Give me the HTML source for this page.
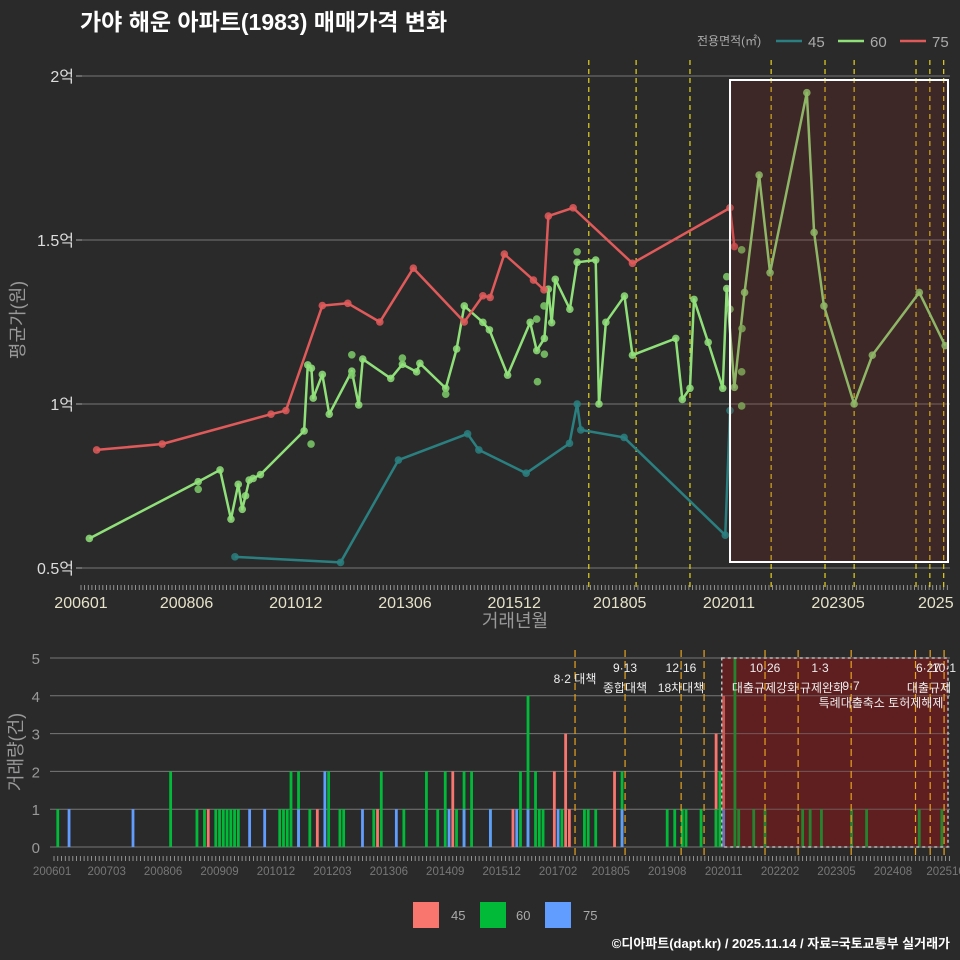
<!DOCTYPE html>
<html><head><meta charset="utf-8"><style>
html,body{margin:0;padding:0;background:#2a2a2b;}
svg{display:block;font-family:"Liberation Sans","Noto Sans CJK KR",sans-serif;}
</style></head><body>
<svg id="c" width="960" height="960" viewBox="0 0 960 960">
<rect width="960" height="960" fill="#2a2a2b"/>
<text x="80" y="30" fill="#fff" font-size="23" font-weight="bold">가야 해운 아파트(1983) 매매가격 변화</text>
<g>
<text x="697" y="45" fill="#aaa" font-size="12">전용면적(㎡)</text>
<line x1="776" y1="41" x2="802" y2="41" stroke="#2a8080" stroke-width="2.5"/>
<text x="808" y="47" fill="#aaa" font-size="15">45</text>
<line x1="838" y1="41" x2="864" y2="41" stroke="#90e07a" stroke-width="2.5"/>
<text x="870" y="47" fill="#aaa" font-size="15">60</text>
<line x1="900" y1="41" x2="926" y2="41" stroke="#e05a5a" stroke-width="2.5"/>
<text x="932" y="47" fill="#aaa" font-size="15">75</text>
</g>
<g id="topg"></g>
<g id="botg"></g>
<text x="515" y="627" fill="#999" font-size="18" text-anchor="middle">거래년월</text>
<text transform="translate(24,320) rotate(-90)" fill="#999" font-size="18" text-anchor="middle">평균가(원)</text>
<text transform="translate(22,752) rotate(-90)" fill="#999" font-size="18" text-anchor="middle">거래량(건)</text>
<g>
<rect x="413" y="902" width="26" height="26" fill="#f8766d"/>
<text x="451" y="920" fill="#aaa" font-size="13">45</text>
<rect x="480" y="902" width="26" height="26" fill="#00ba38"/>
<text x="516" y="920" fill="#aaa" font-size="13">60</text>
<rect x="545" y="902" width="26" height="26" fill="#619cff"/>
<text x="583" y="920" fill="#aaa" font-size="13">75</text>
</g>
<text x="950" y="948" fill="#fff" font-size="13" font-weight="bold" text-anchor="end">©디아파트(dapt.kr) / 2025.11.14 / 자료=국토교통부 실거래가</text>
</svg>
<script>
const redM=[4.3,22.3,52.2,56.3,66.3,73.3,82.1,91.3,105.3,110.4,112.4,116.3,124.3,127.2,128.4,135.2,151.5,178.3,179.5];
const redV=[0.86,0.878,0.969,0.98,1.30,1.307,1.25,1.414,1.25,1.33,1.325,1.457,1.378,1.348,1.573,1.598,1.429,1.598,1.48];
const tealM=[42.3,71.3,87.2,106.2,109.3,122.3,134.2,136.3,137.3,149.2,177,178.3];
const tealV=[0.534,0.517,0.829,0.909,0.86,0.789,0.88,1.0,0.921,0.898,0.6,0.98];
const greenM=[2.3,32.2,38.2,41.2,43.2,44.3,45.2,46.2,47.3,49.3,61.3,62.3,63.3,63.8,66.3,68.2,74.4,76.3,77.4,85.1,88.3,92.2,93.1,100.2,103.2,105.3,110.4,112.2,117.2,123.4,125.2,127.3,128.4,129.3,130.3,134.3,136.3,141.4,142.3,144.2,149.3,151.5,163.4,165.2,167.3,168.4,172.3,176.3,177.4,179.5,182.3,186.3,189.3,199.4,201.4,204.1,212.4,217.4,230.3,237.4];
const greenV=[0.59,0.763,0.799,0.649,0.755,0.679,0.72,0.768,0.773,0.785,0.918,1.119,1.109,1.018,1.09,0.969,1.10,0.997,1.137,1.078,1.121,1.098,1.124,1.048,1.168,1.299,1.249,1.226,1.088,1.249,1.163,1.2,1.35,1.248,1.38,1.289,1.432,1.439,1.0,1.249,1.329,1.149,1.2,1.014,1.048,1.319,1.188,1.048,1.352,1.051,1.34,1.698,1.40,1.949,1.523,1.299,1.0,1.149,1.34,1.178];
const extraM=[32.2,63.2,74.4,74.4,88.3,100.2,125.4,125.2,127.3,127.2,136.3,177.4,178.3,181.5,181.6,181.5,181.5];
const extraV=[0.74,0.878,1.15,1.088,1.14,1.03,1.068,1.259,1.152,1.299,1.464,1.388,1.289,1.47,1.23,1.098,0.994];
const yTicks=[0.5,1,1.5,2];
const yTickLabels=["0.5억","1억","1.5억","2억"];
const xTickM=[0,29,59,89,119,148,178,208,236];
const xTickLabels=["200601","200806","201012","201306","201512","201805","202011","202305","2025"];
const topEvents=[139.5,152.5,167.3,189.6,204.4,212.4,229.4,233.2,237];
const g60M=[1,31,38,40,43,44,45,46,47,48,49,60,61,62,63,65,68,73,76,77,85,87,93,99,102,104,107,109,111,116,124,126,128,129,130,135,141,142,144,151,163,165,167,168,172,176,177,181,182,186,189,199,201,204,212,216,230,236];
const g60C=[1,2,1,1,1,1,1,1,1,1,1,1,1,1,2,2,1,2,1,1,1,2,1,2,1,2,1,2,2,1,2,4,2,1,1,1,1,1,1,2,1,1,1,1,1,1,2,5,1,1,1,1,1,1,1,1,1,1];
const r45M=[41,70,86,106,122,133,136,137,149,176,178];
const r45C=[1,1,1,2,1,2,3,1,2,3,4];
const b75M=[4,21,52,56,65,72,82,91,105,109,116,123,126,134,151,178];
const b75C=[1,1,1,1,1,2,1,1,1,1,1,1,1,1,1,1];
const botYTicks=[0,1,2,3,4,5];
const botXTickM=[-0.5,14,29,44,59,74,89,104,119,134,148,163,178,193,208,223,237];
const botXTickLabels=["200601","200703","200806","200909","201012","201203","201306","201409","201512","201702","201805","201908","202011","202202","202305","202408","202510"];
const botEvents=[138.5,151.8,166.7,172.8,189,197.8,211.9,229,232.9,236.6];

const NS="http://www.w3.org/2000/svg";
function mk(parent,tag,attrs){const el=document.createElementNS(NS,tag);for(const k in attrs)el.setAttribute(k,attrs[k]);parent.appendChild(el);return el;}
const xT=m=>81+3.64*m, yT=v=>404-(v-1)*328;
const xB=m=>54+3.762*m, yB=c=>847-c*37.8;

const topG=document.getElementById('topg');
let el;
yTicks.forEach((v,i)=>{
  let l=mk(topG,'line',{x1:82,x2:950,y1:yT(v),y2:yT(v),stroke:'#777','stroke-width':1});
  
  
  let t=mk(topG,'line',{x1:76,x2:82,y1:yT(v),y2:yT(v),stroke:'#aaa'});
  
  
  let tx=mk(topG,'text',{x:74,y:yT(v)+6,fill:'#ddd','font-size':16,'text-anchor':'end'});
  tx.textContent=yTickLabels[i];
  
  
});
for(let m=0;m<=238;m++){
  let t=mk(topG,'line',{x1:xT(m),x2:xT(m),y1:585,y2:590,stroke:'#aaa','stroke-width':0.8});
  
  
}
xTickM.forEach((m,i)=>{
  let last=i==xTickM.length-1;
  let tx=mk(topG,'text',{x:last?918:xT(m),y:608,fill:'#e6e2c8','font-size':16,'text-anchor':last?'start':'middle'});
  tx.textContent=xTickLabels[i];
  
  
});
topEvents.forEach(m=>{
  let l=mk(topG,'line',{x1:xT(m),x2:xT(m),y1:60,y2:590,stroke:'#e6d21e','stroke-width':1.2,'stroke-dasharray':'5,4'});
  
  
});
function series(M,V,col,name){
  let p=mk(topG,'polyline',{points:M.map((m,i)=>xT(m)+','+yT(V[i])).join(' '),fill:'none',stroke:col,'stroke-width':2.5,'stroke-linejoin':'round'});
  
  
  M.forEach((m,i)=>{
    let c=mk(topG,'circle',{cx:xT(m),cy:yT(V[i]),r:3.8,fill:col,opacity:0.85});
    
    
  });
}
series(tealM,tealV,'#2a8080','area-45');
series(greenM,greenV,'#90e07a','area-60');
series(redM,redV,'#e05a5a','area-75');
extraM.forEach((m,i)=>{
  let c=mk(topG,'circle',{cx:xT(m),cy:yT(extraV[i]),r:3.8,fill:'#7ccc68',opacity:0.85});
  
  
});
el=mk(topG,'rect',{x:xT(178.3),y:80,width:948-xT(178.3),height:482,fill:'#8b1a1a','fill-opacity':0.21,stroke:'#fff','stroke-width':2});



const botG=document.getElementById('botg');
el=mk(botG,'rect',{x:xB(177.5),y:658,width:948-xB(177.5),height:189,fill:'#5a1f21'});


botYTicks.forEach(c=>{
  let l=mk(botG,'line',{x1:50,x2:950,y1:yB(c),y2:yB(c),stroke:'#777','stroke-width':1});
  
  
  let tx=mk(botG,'text',{x:40,y:yB(c)+6,fill:'#999','font-size':15,'text-anchor':'end'});
  tx.textContent=c;
  
  
});
for(let m=0;m<=238;m++){
  let t=mk(botG,'line',{x1:xB(m),x2:xB(m),y1:856,y2:861,stroke:'#aaa','stroke-width':0.8});
  
  
}
botXTickM.forEach((m,i)=>{
  let tx=mk(botG,'text',{x:xB(m),y:875,fill:'#777','font-size':11.5,'text-anchor':'middle'});
  tx.textContent=botXTickLabels[i];
  
  
});
function bars(M,C,col,name){
  M.forEach((m,i)=>{
    let r=mk(botG,'rect',{x:xB(m)-1.4,y:yB(C[i]),width:2.8,height:yB(0)-yB(C[i]),fill:col});
    
    
  });
}
bars(r45M,r45C,'#f8766d','bar-45');
bars(g60M,g60C,'#00ba38','bar-60');
bars(b75M,b75C,'#619cff','bar-75');
el=mk(botG,'rect',{x:xB(177.5),y:658,width:948-xB(177.5),height:189,fill:'#6a2020','fill-opacity':0.35,stroke:'#bbb','stroke-width':1.5,'stroke-dasharray':'3,3'});


botEvents.forEach(m=>{
  let l=mk(botG,'line',{x1:xB(m),x2:xB(m),y1:650,y2:858,stroke:'#e8a21e','stroke-width':1.2,'stroke-dasharray':'7,4'});
  
  
});
const evTexts=[["8·2 대책",575,683],["9·13",625,672],["종합대책",625,692],["12·16",681,672],["18차대책",681,692],["10·26",765,672],["대출규제강화",765,692],["1·3",820,672],["규제완화",822,692],["9·7",851,690],["특례대출축소 토허제해제",881,707],["6·27",928,672],["10·1",944,672],["대출규제",929,692]];
evTexts.forEach(a=>{
  let tx=mk(botG,'text',{x:a[1],y:a[2],fill:'#eee','font-size':12,'text-anchor':'middle'});
  tx.textContent=a[0];
  
  
});
</script>
</body></html>
